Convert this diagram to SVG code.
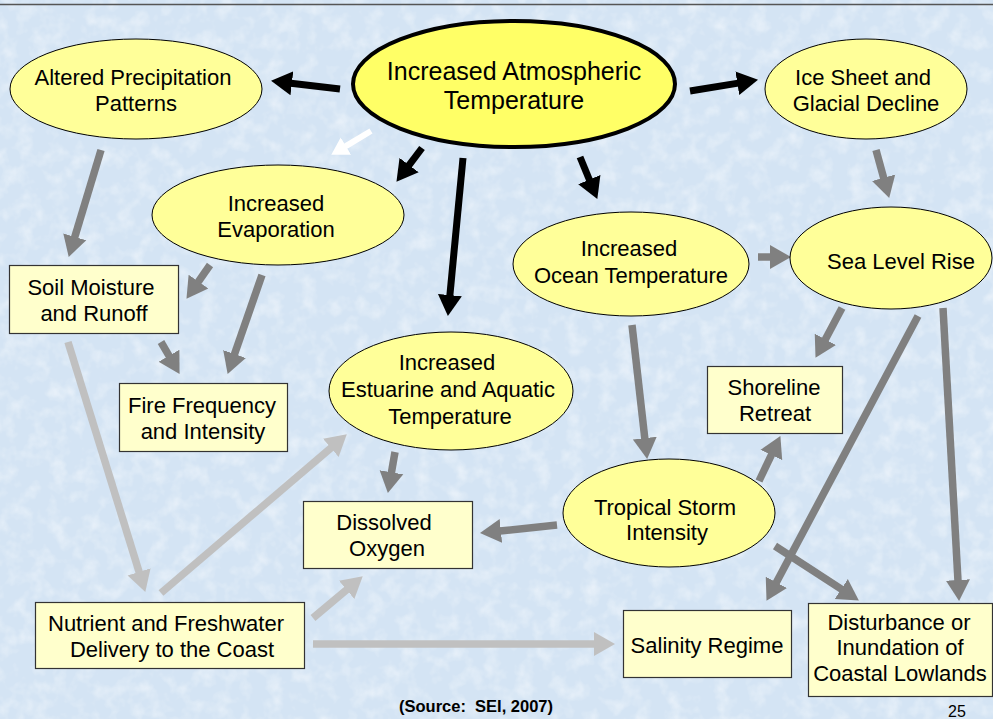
<svg xmlns="http://www.w3.org/2000/svg" width="993" height="719" viewBox="0 0 993 719">
<defs>
<style>
text{font-family:"Liberation Sans",Arial,sans-serif;fill:#000;text-anchor:middle}
.t{font-size:22px}
.tm{font-size:25px}
.el{fill:#ffff99;stroke:#000;stroke-width:1}
.bx{fill:#ffffcc;stroke:#333;stroke-width:1.2}
.ab{stroke:#000;stroke-width:7;fill:none}
.ag{stroke:#808080;stroke-width:7.5;fill:none}
.al{stroke:#c0c0c0;stroke-width:7.5;fill:none}
.aw{stroke:#fff;stroke-width:6;fill:none}
</style>
<filter id="tx" x="0" y="0" width="100%" height="100%">
<feTurbulence type="fractalNoise" baseFrequency="0.06" numOctaves="3" seed="7"/>
<feColorMatrix type="matrix" values="0 0 0 0 1  0 0 0 0 1  0 0 0 0 1  0 0 0 1.6 -0.7"/>
</filter>
<marker id="hb" markerUnits="userSpaceOnUse" markerWidth="24" markerHeight="26" refX="1" refY="12" orient="auto" viewBox="0 0 24 24"><path d="M0,0L21,12L0,24z" fill="#000"/></marker>
<marker id="hg" markerUnits="userSpaceOnUse" markerWidth="24" markerHeight="26" refX="1" refY="12" orient="auto" viewBox="0 0 24 24"><path d="M0,0L21,12L0,24z" fill="#808080"/></marker>
<marker id="hl" markerUnits="userSpaceOnUse" markerWidth="24" markerHeight="26" refX="1" refY="12" orient="auto" viewBox="0 0 24 24"><path d="M0,0L21,12L0,24z" fill="#c0c0c0"/></marker>
<marker id="hw" markerUnits="userSpaceOnUse" markerWidth="20" markerHeight="22" refX="1" refY="10" orient="auto" viewBox="0 0 20 20"><path d="M0,0L17,10L0,20z" fill="#fff"/></marker>
</defs>
<rect width="993" height="719" fill="#d4e4f4"/>
<rect width="993" height="719" filter="url(#tx)" opacity="0.6"/>
<line x1="0" y1="4.5" x2="993" y2="4.5" stroke="#555" stroke-width="1.5"/>
<g id="connectors">
<path class="ab" d="M340,89L290.9,83.2" marker-end="url(#hb)"/>
<path class="ab" d="M690,91L738.3,83.1" marker-end="url(#hb)"/>
<path class="ab" d="M422,148L408.5,165.9" marker-end="url(#hb)"/>
<path class="ab" d="M463,158L449.8,296.1" marker-end="url(#hb)"/>
<path class="ab" d="M580,157L589.7,180.5" marker-end="url(#hb)"/>
<path class="aw" d="M371,131L345,146.6" marker-end="url(#hw)"/>
<path class="ag" d="M101,150L74.5,237.8" marker-end="url(#hg)"/>
<path class="ag" d="M210,265L197.9,282.4" marker-end="url(#hg)"/>
<path class="ag" d="M262,275L234.2,355" marker-end="url(#hg)"/>
<path class="ag" d="M161,342L169.5,356.6" marker-end="url(#hg)"/>
<path class="ag" d="M876,150L883.9,178.7" marker-end="url(#hg)"/>
<path class="ag" d="M758,257L771,257" marker-end="url(#hg)"/>
<path class="ag" d="M842,308L824.9,340.2" marker-end="url(#hg)"/>
<path class="ag" d="M918,316L775.9,583.2" marker-end="url(#hg)"/>
<path class="ag" d="M943,308L958,581" marker-end="url(#hg)"/>
<path class="ag" d="M632,325L644.9,439.1" marker-end="url(#hg)"/>
<path class="ag" d="M759,481L771.8,454.1" marker-end="url(#hg)"/>
<path class="ag" d="M557,525L499.9,531" marker-end="url(#hg)"/>
<path class="ag" d="M775,546L842.1,589.6" marker-end="url(#hg)"/>
<path class="ag" d="M395,452L391.3,473.3" marker-end="url(#hg)"/>
<path class="al" d="M68,342L139.4,572.8" marker-end="url(#hl)"/>
<path class="al" d="M161,593L331.6,447.3" marker-end="url(#hl)"/>
<path class="al" d="M313,618L347.4,589.2" marker-end="url(#hl)"/>
<path class="al" d="M313,644L595,644" marker-end="url(#hl)"/>
</g>
<g id="main">
<ellipse cx="514" cy="84" rx="161" ry="63" fill="#ffff66" stroke="#000" stroke-width="4"/>
<text class="tm" x="514" y="80">Increased Atmospheric</text>
<text class="tm" x="514" y="109">Temperature</text>
</g>
<g id="precip">
<ellipse class="el" cx="136" cy="89" rx="126" ry="50"/>
<text class="t" x="133" y="85">Altered Precipitation</text>
<text class="t" x="136" y="111">Patterns</text>
</g>
<g id="ice">
<ellipse class="el" cx="866" cy="89" rx="101" ry="50"/>
<text class="t" x="863" y="85">Ice Sheet and</text>
<text class="t" x="866" y="111">Glacial Decline</text>
</g>
<g id="evap">
<ellipse class="el" cx="278" cy="215" rx="126" ry="50"/>
<text class="t" x="276" y="211">Increased</text>
<text class="t" x="276" y="237">Evaporation</text>
</g>
<g id="ocean">
<ellipse class="el" cx="631" cy="264" rx="118" ry="52"/>
<text class="t" x="629" y="256">Increased</text>
<text class="t" x="631" y="283">Ocean Temperature</text>
</g>
<g id="sea">
<ellipse class="el" cx="891" cy="258" rx="101" ry="51"/>
<text class="t" x="901" y="269">Sea Level Rise</text>
</g>
<g id="soil">
<rect class="bx" x="9.5" y="265.5" width="169" height="68"/>
<text class="t" x="91" y="295">Soil Moisture</text>
<text class="t" x="94" y="321">and Runoff</text>
</g>
<g id="fire">
<rect class="bx" x="119.5" y="383.5" width="168" height="68"/>
<text class="t" x="202" y="413">Fire Frequency</text>
<text class="t" x="203" y="439">and Intensity</text>
</g>
<g id="estuarine">
<ellipse class="el" cx="451" cy="391" rx="122" ry="59"/>
<text class="t" x="447" y="370">Increased</text>
<text class="t" x="448" y="397">Estuarine and Aquatic</text>
<text class="t" x="450" y="424">Temperature</text>
</g>
<g id="shoreline">
<rect class="bx" x="707.5" y="366.5" width="135" height="67"/>
<text class="t" x="774" y="395">Shoreline</text>
<text class="t" x="775" y="421">Retreat</text>
</g>
<g id="oxygen">
<rect class="bx" x="303.5" y="501.5" width="169" height="67"/>
<text class="t" x="384" y="530">Dissolved</text>
<text class="t" x="387" y="556">Oxygen</text>
</g>
<g id="storm">
<ellipse class="el" cx="669" cy="513" rx="106" ry="54"/>
<text class="t" x="665" y="515">Tropical Storm</text>
<text class="t" x="667" y="540">Intensity</text>
</g>
<g id="nutrient">
<rect class="bx" x="35.5" y="602.5" width="269" height="66"/>
<text class="t" x="166" y="631">Nutrient and Freshwater</text>
<text class="t" x="172" y="657">Delivery to the Coast</text>
</g>
<g id="salinity">
<rect class="bx" x="623.5" y="610.5" width="168" height="67"/>
<text class="t" x="707" y="653">Salinity Regime</text>
</g>
<g id="disturbance">
<rect class="bx" x="808.5" y="603.5" width="184" height="93"/>
<text class="t" x="899" y="630">Disturbance or</text>
<text class="t" x="900" y="655">Inundation of</text>
<text class="t" x="900" y="681">Coastal Lowlands</text>
</g>
<text x="476" y="712" xml:space="preserve" style="font-size:16.5px;font-weight:bold;white-space:pre">(Source:  SEI, 2007)</text>
<text x="957" y="717" style="font-size:16px">25</text>
</svg>
